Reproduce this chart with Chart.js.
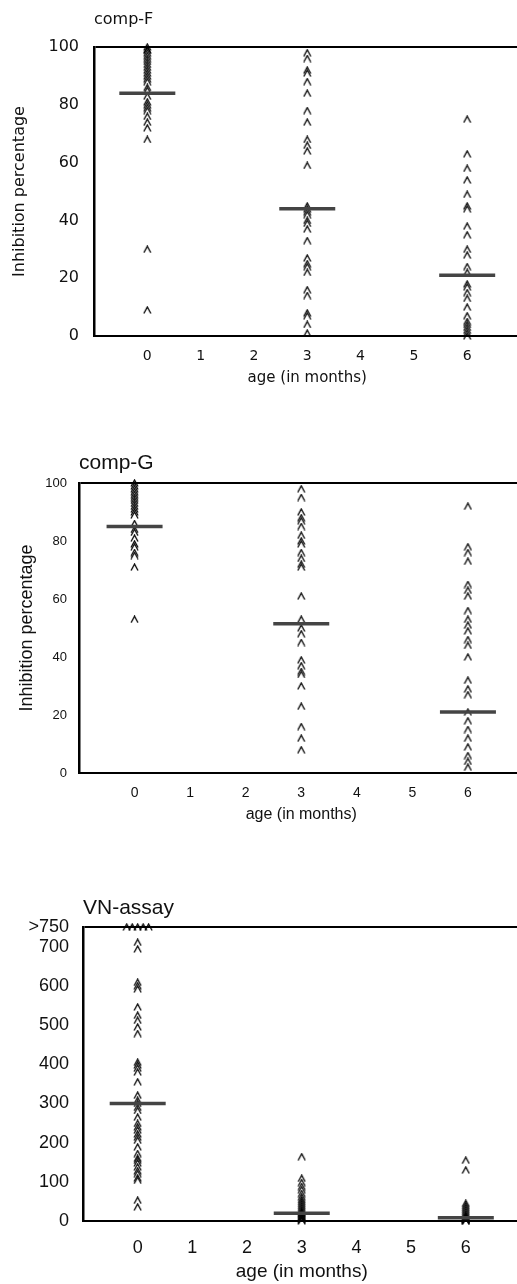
<!DOCTYPE html>
<html>
<head>
<meta charset="utf-8">
<title>Inhibition by age</title>
<script src="https://cdn.jsdelivr.net/npm/chart.js@4.4.1/dist/chart.umd.min.js"></script>
<style>
  html, body { margin: 0; padding: 0; background: #fff; overflow: hidden; }
  canvas { position: absolute; left: 0; }
</style>
</head>
<body>
<canvas id="compF" width="524" height="400" style="top:0"></canvas>
<canvas id="compG" width="524" height="400" style="top:440px"></canvas>
<canvas id="vnAssay" width="524" height="404" style="top:880px"></canvas>

<script>
// age groups (months)
const ages = [0, 3, 6];

// comp-F inhibition percentage per individual
const compF0 = [100, 99, 99, 98, 97, 96, 95, 94, 93, 92, 91, 90, 89, 88, 86, 85, 83, 81, 80, 79, 78, 76, 74, 72, 68, 30, 9];
const compF3 = [98, 96, 92, 91, 88, 84, 78, 74, 68, 66, 64, 59, 45, 44, 43, 42, 40, 39, 37, 33, 27, 25, 24, 22, 16, 14, 8, 7, 4, 1];
const compF6 = [75, 63, 58, 54, 49, 45, 44, 38, 35, 30, 28, 24, 22, 18, 17, 15, 13, 10, 7, 5, 4, 3, 2, 1, 0];
const compFCentre = [84, 44, 21];

// comp-G inhibition percentage per individual
const compG0 = [100, 99, 98, 97, 96, 95, 94, 93, 92, 91, 90, 89, 86, 84, 83, 81, 79, 78, 76, 75, 71, 53];
const compG3 = [98, 95, 90, 88, 87, 85, 82, 80, 79, 76, 74, 72, 71, 61, 53, 50, 48, 45, 39, 37, 35, 34, 30, 23, 16, 12, 8];
const compG6 = [92, 78, 76, 73, 65, 63, 61, 56, 53, 51, 49, 46, 44, 40, 32, 29, 27, 21, 18, 15, 12, 9, 6, 4, 2];
const compGCentre = [85, 51.5, 21];

// VN-assay titres (750 = above the top dilution)
const vn0 = [750, 750, 750, 750, 750, 711, 694, 609, 600, 592, 546, 525, 512, 495, 478, 405, 398, 390, 380, 355, 321, 308, 300, 290, 282, 265, 249, 240, 232, 222, 214, 206, 189, 172, 160, 155, 148, 138, 128, 121, 110, 104, 53, 36];
const vn3 = [164, 109, 98, 88, 80, 70, 62, 55, 50, 45, 40, 35, 30, 25, 22, 20, 18, 15, 12, 10, 8, 5, 3, 0];
const vn6 = [155, 130, 45, 40, 35, 30, 25, 20, 15, 12, 10, 8, 6, 5, 4, 3, 2, 1, 0];
const vnCentre = [300, 20, 8];
const vnCap = 750;

const pctTicks = [0, 20, 40, 60, 80, 100];
const vnTicks = [0, 100, 200, 300, 400, 500, 600, 700, 750];

// "^" marker used for every individual
function caretMarker() {
  const c = document.createElement("canvas");
  c.width = 9;
  c.height = 8;
  const g = c.getContext("2d");
  g.strokeStyle = "#000";
  g.lineWidth = 1.3;
  g.beginPath();
  g.moveTo(1, 7.5);
  g.lineTo(4.5, 1);
  g.lineTo(8, 7.5);
  g.stroke();
  return c;
}
const caret = caretMarker();

function toPoints(groups, cap) {
  const pts = [];
  groups.forEach((vals, i) => {
    const capped = cap ? vals.filter((v) => v >= cap).length : 0;
    let k = 0;
    vals.forEach((v) => {
      if (cap && v >= cap) {
        // spread the capped titres sideways along the top
        pts.push({ x: ages[i] + (k - (capped - 1) / 2) * 0.1, y: v });
        k++;
      } else {
        pts.push({ x: ages[i], y: v });
      }
    });
  });
  return pts;
}

// widen the canvas until the plot reaches the page edge (frame is cut off on the right)
function stretchTo(chart, right) {
  for (let i = 0; i < 4; i++) {
    const diff = right - chart.chartArea.right;
    if (Math.abs(diff) < 0.5) break;
    chart.resize(Math.round(chart.width + diff), chart.height);
  }
}

function buildPanel(id, o) {
  const chart = new Chart(document.getElementById(id), {
    type: "scatter",
    data: {
      datasets: [
        {
          data: o.centre.map((v, i) => ({ x: ages[i], y: v })),
          pointStyle: "line",
          pointRadius: 28,
          pointBorderWidth: 3.5,
          pointBorderColor: "#444",
          clip: false
        },
        {
          data: toPoints(o.groups, o.cap),
          pointStyle: caret,
          pointRadius: 4,
          clip: false
        }
      ]
    },
    options: {
      responsive: false,
      maintainAspectRatio: false,
      animation: false,
      events: [],
      plugins: {
        legend: { display: false },
        tooltip: { enabled: false },
        title: {
          display: true,
          text: o.title,
          align: "start",
          fullSize: false,
          color: "#111",
          font: { family: o.family, size: o.titleSize, weight: "normal" },
          padding: { top: o.titlePad[0], bottom: o.titlePad[1] }
        }
      },
      scales: {
        x: {
          type: "linear",
          min: -1,
          max: 7,
          afterFit: (s) => { s.height = o.xHeight; },
          grid: { display: false, drawTicks: false },
          border: { display: true, color: "#000", width: 2 },
          ticks: {
            stepSize: 1,
            autoSkip: false,
            maxRotation: 0,
            padding: o.xTickPad,
            color: "#111",
            font: { family: o.family, size: o.xTickSize },
            callback: (v) => (v >= 0 && v <= 6 ? v : "")
          },
          title: {
            display: true,
            text: "age (in months)",
            color: "#111",
            font: { family: o.family, size: o.xTitleSize },
            padding: { top: 0, bottom: o.xTitlePad }
          }
        },
        y: {
          min: 0,
          max: o.yMax,
          afterFit: (s) => { s.width = o.left; },
          afterBuildTicks: (s) => { s.ticks = o.yTicks.map((v) => ({ value: v })); },
          grid: {
            drawTicks: false,
            lineWidth: 2,
            color: (c) => (c.tick && c.tick.value === o.yMax ? "#000" : "rgba(0,0,0,0)")
          },
          border: { display: true, color: "#000", width: 2.5 },
          ticks: {
            autoSkip: false,
            padding: o.yTickPad,
            color: "#111",
            font: { family: o.family, size: o.tickSize },
            callback: (v) => (o.cap && v >= o.cap ? ">" + v : v)
          },
          title: {
            display: !!o.yTitle,
            text: o.yTitle,
            color: "#111",
            font: { family: o.family, size: o.yTitleSize },
            padding: { top: o.yTitlePad, bottom: 0 }
          }
        }
      }
    }
  });
  stretchTo(chart, o.right);
  return chart;
}

buildPanel("compF", {
  title: "comp-F",
  family: "'DejaVu Sans'",
  titleSize: 16,
  titlePad: [10.4, 17.4],
  groups: [compF0, compF3, compF6],
  centre: compFCentre,
  yMax: 100,
  yTicks: pctTicks,
  left: 94,
  right: 520,
  tickSize: 16,
  yTickPad: 15,
  yTitle: "Inhibition percentage",
  yTitleSize: 16,
  yTitlePad: 10.4,
  xHeight: 64,
  xTickSize: 14,
  xTickPad: 11.6,
  xTitleSize: 15,
  xTitlePad: 13
});

buildPanel("compG", {
  title: "comp-G",
  family: "'Liberation Sans', Arial, sans-serif",
  titleSize: 21,
  titlePad: [10.4, 7.4],
  groups: [compG0, compG3, compG6],
  centre: compGCentre,
  yMax: 100,
  yTicks: pctTicks,
  left: 79,
  right: 523,
  tickSize: 13,
  yTickPad: 12,
  yTitle: "Inhibition percentage",
  yTitleSize: 18,
  yTitlePad: 16.2,
  xHeight: 67,
  xTickSize: 14,
  xTickPad: 11.6,
  xTitleSize: 16,
  xTitlePad: 15.4
});

buildPanel("vnAssay", {
  title: "VN-assay",
  family: "'Liberation Sans', Arial, sans-serif",
  titleSize: 21,
  titlePad: [15.4, 6.4],
  groups: [vn0, vn3, vn6],
  centre: vnCentre,
  cap: vnCap,
  yMax: vnCap,
  yTicks: vnTicks,
  left: 83,
  right: 520.6,
  tickSize: 18,
  yTickPad: 14,
  yTitle: "",
  yTitleSize: 16,
  yTitlePad: 0,
  xHeight: 63,
  xTickSize: 18,
  xTickPad: 16.2,
  xTitleSize: 19,
  xTitlePad: 0.6
});
</script>
</body>
</html>
